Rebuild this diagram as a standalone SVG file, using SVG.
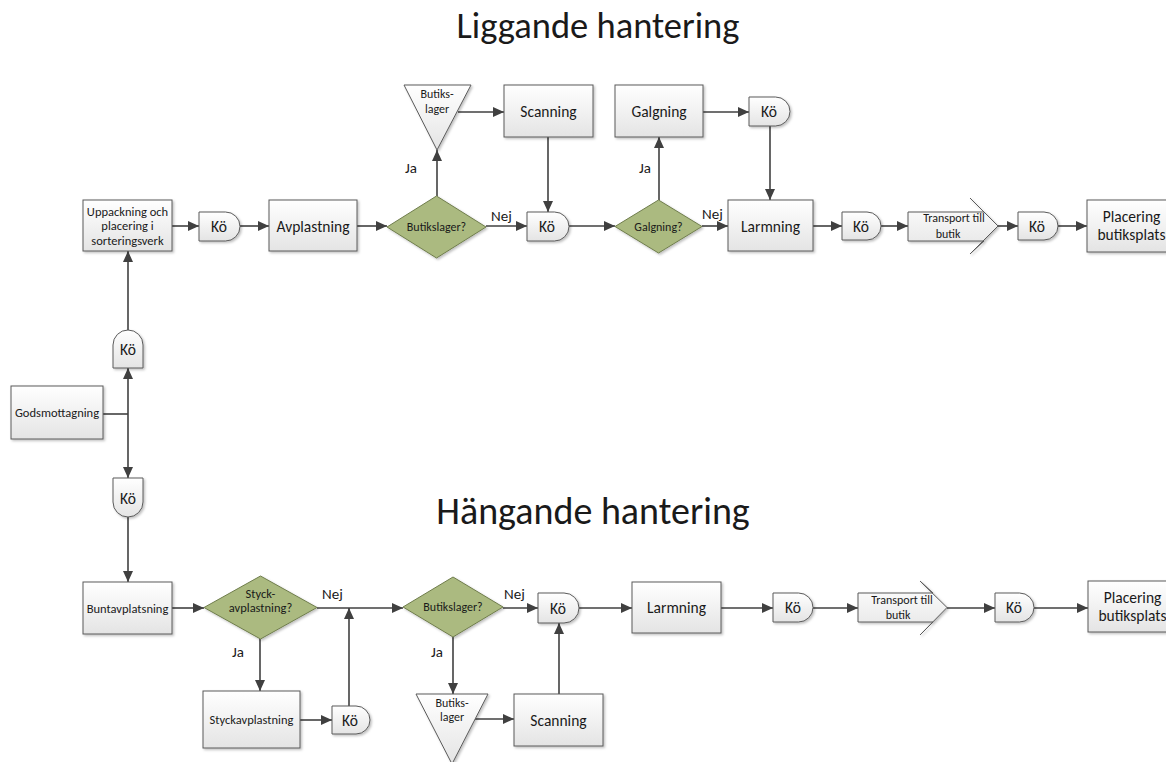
<svg xmlns="http://www.w3.org/2000/svg" width="1166" height="762" viewBox="0 0 1166 762">
<defs>
<linearGradient id="g" x1="0" y1="0" x2="0" y2="1">
<stop offset="0" stop-color="#ffffff"/>
<stop offset="1" stop-color="#e4e4e4"/>
</linearGradient>
<filter id="sh" x="-10%" y="-10%" width="130%" height="130%">
<feDropShadow dx="1.5" dy="1.5" stdDeviation="1" flood-color="#000" flood-opacity="0.25"/>
</filter>
<marker id="ah" markerUnits="userSpaceOnUse" markerWidth="12" markerHeight="10" refX="11" refY="5" orient="auto">
<path d="M0,0 L11,5 L0,10 z" fill="#404040"/>
</marker>
<style>
.box{fill:url(#g);stroke:#5a5a5a;stroke-width:1;filter:url(#sh)}
.dia{fill:#abba80;stroke:#6f7d4c;stroke-width:1;filter:url(#sh)}
.ln{stroke:#404040;stroke-width:1.6;fill:none;marker-end:url(#ah)}
.pl{stroke:#404040;stroke-width:1.6;fill:none}
text{font-family:Carlito,Calibri,Lato,"Open Sans",sans-serif;fill:#1a1a1a;text-anchor:middle}
.t14{font-size:15.5px}
.t11{font-size:12.5px}
.t10{font-size:12px}
.lb{font-size:15px;text-anchor:start}
.title{font-size:36.5px}
</style>
</defs>

<text class="title" x="598" y="38">Liggande hantering</text>
<text class="title" x="593" y="524" style="font-size:38px">Hängande hantering</text>

<g id="connectors">
<line class="ln" x1="172" y1="226" x2="199" y2="226"/>
<line class="ln" x1="240" y1="226" x2="269" y2="226"/>
<line class="ln" x1="357" y1="226" x2="387" y2="226"/>
<line class="ln" x1="437" y1="196" x2="437" y2="150"/>
<line class="ln" x1="458" y1="112" x2="504" y2="112"/>
<line class="ln" x1="548" y1="137" x2="548" y2="212"/>
<line class="ln" x1="486" y1="226" x2="527" y2="226"/>
<line class="ln" x1="569" y1="226" x2="615" y2="226"/>
<line class="ln" x1="659" y1="200" x2="659" y2="137"/>
<line class="ln" x1="703" y1="112" x2="749" y2="112"/>
<line class="ln" x1="770" y1="126" x2="770" y2="200"/>
<line class="ln" x1="702" y1="226" x2="728" y2="226"/>
<line class="ln" x1="813" y1="226" x2="842" y2="226"/>
<line class="ln" x1="881" y1="226" x2="908" y2="226"/>
<line class="ln" x1="998" y1="226" x2="1018" y2="226"/>
<line class="ln" x1="1058" y1="226" x2="1087" y2="226"/>
<polyline class="pl" points="103,414 128,414"/>
<line class="ln" x1="128" y1="414" x2="128" y2="368"/>
<line class="ln" x1="128" y1="414" x2="128" y2="478"/>
<line class="ln" x1="128" y1="330" x2="128" y2="251"/>
<line class="ln" x1="128" y1="517" x2="128" y2="582"/>
<line class="ln" x1="172" y1="608" x2="204" y2="608"/>
<line class="ln" x1="317" y1="608" x2="403" y2="608"/>
<line class="ln" x1="260" y1="639" x2="260" y2="691"/>
<line class="ln" x1="300" y1="720" x2="332" y2="720"/>
<line class="ln" x1="349" y1="706" x2="349" y2="608"/>
<line class="ln" x1="453" y1="637" x2="453" y2="694"/>
<line class="ln" x1="475" y1="719" x2="514" y2="719"/>
<line class="ln" x1="559" y1="694" x2="559" y2="623"/>
<line class="ln" x1="503" y1="608" x2="538" y2="608"/>
<line class="ln" x1="579" y1="608" x2="632" y2="608"/>
<line class="ln" x1="721" y1="608" x2="773" y2="608"/>
<line class="ln" x1="813" y1="608" x2="858" y2="608"/>
<line class="ln" x1="947" y1="608" x2="995" y2="608"/>
<line class="ln" x1="1034" y1="608" x2="1088" y2="608"/>
<text class="lb" x="405" y="173">Ja</text>
<text class="lb" x="491" y="221">Nej</text>
<text class="lb" x="639" y="173">Ja</text>
<text class="lb" x="702" y="219">Nej</text>
<text class="lb" x="322" y="599">Nej</text>
<text class="lb" x="232" y="657">Ja</text>
<text class="lb" x="504" y="599">Nej</text>
<text class="lb" x="431" y="657">Ja</text>
</g>

<g id="uppackning"><rect class="box" x="83" y="200" width="89" height="51"/>
<text class="t11" x="127.5" y="216">Uppackning och</text><text class="t11" x="127.5" y="230">placering i</text><text class="t11" x="127.5" y="244.5">sorteringsverk</text></g>
<g id="ko1"><path class="box" d="M199 212 H225.5 A14.5 14.5 0 0 1 225.5 241 H199 Z"/><text class="t14" x="219" y="232">Kö</text></g>
<g id="avplastning"><rect class="box" x="269" y="200" width="88" height="51"/><text class="t14" x="313" y="231.5">Avplastning</text></g>
<g id="butikslager1"><polygon class="dia" points="387,227 436.5,196 486,227 436.5,258"/><text class="t10" x="436.5" y="231">Butikslager?</text></g>
<g id="lager1"><polygon class="box" points="404,85 471,85 437,150"/><text class="t10" x="437" y="98">Butiks-</text><text class="t10" x="437" y="113">lager</text></g>
<g id="scanning1"><rect class="box" x="504" y="85" width="89" height="52"/><text class="t14" x="548.5" y="116.5">Scanning</text></g>
<g id="ko2"><path class="box" d="M527 212 H554.5 A14.5 14.5 0 0 1 554.5 241 H527 Z"/><text class="t14" x="547" y="232">Kö</text></g>
<g id="galgningq"><polygon class="dia" points="615,226.5 658.5,200 702,226.5 658.5,253"/><text class="t10" x="658.5" y="230.5">Galgning?</text></g>
<g id="galgning"><rect class="box" x="615" y="85" width="88" height="52"/><text class="t14" x="659" y="116.5">Galgning</text></g>
<g id="ko3"><path class="box" d="M749 97 H775.5 A14.5 14.5 0 0 1 775.5 126 H749 Z"/><text class="t14" x="769" y="117">Kö</text></g>
<g id="larmning1"><rect class="box" x="728" y="200" width="85" height="51"/><text class="t14" x="770.5" y="231.5">Larmning</text></g>
<g id="ko4"><path class="box" d="M842 212 H867 A14 14 0 0 1 867 240 H842 Z"/><text class="t14" x="861" y="231.5">Kö</text></g>
<g id="transport1"><polygon class="box" points="908,212 984,212 970,198 998,226 970,254 984,241 908,241"/><text class="t10" x="954" y="222">Transport till</text><text class="t10" x="948" y="238">butik</text></g>
<g id="ko5"><path class="box" d="M1018 212 H1044 A14 14 0 0 1 1044 240 H1018 Z"/><text class="t14" x="1037" y="231.5">Kö</text></g>
<g id="placering1"><rect class="box" x="1087" y="200" width="89" height="52"/><text class="t14" x="1131.5" y="222">Placering</text><text class="t14" x="1131.5" y="240">butiksplats</text></g>

<g id="godsmottagning"><rect class="box" x="11" y="386" width="92" height="53"/><text class="t11" x="57" y="417">Godsmottagning</text></g>
<g id="ko-upper"><path class="box" d="M113 368 V345 A15 15 0 0 1 143 345 V368 Z"/><text class="t14" x="128" y="354.5">Kö</text></g>
<g id="ko-lower"><path class="box" d="M113 478 H143 V502 A15 15 0 0 1 113 502 Z"/><text class="t14" x="128" y="503.5">Kö</text></g>

<g id="buntavplatsning"><rect class="box" x="83" y="582" width="89" height="52"/><text class="t11" x="127.5" y="612.5">Buntavplatsning</text></g>
<g id="styckq"><polygon class="dia" points="204,607.5 260.5,576 317,607.5 260.5,639"/><text class="t11" x="260.5" y="597.5">Styck-</text><text class="t11" x="260.5" y="611.5">avplastning?</text></g>
<g id="styckavplastning"><rect class="box" x="203" y="691" width="97" height="57"/><text class="t11" x="251.5" y="724">Styckavplastning</text></g>
<g id="ko6"><path class="box" d="M332 706 H356 A14 14 0 0 1 356 734 H332 Z"/><text class="t14" x="350" y="725.5">Kö</text></g>
<g id="butikslager2"><polygon class="dia" points="403,607 453,577 503,607 453,637"/><text class="t10" x="453" y="611">Butikslager?</text></g>
<g id="lager2"><polygon class="box" points="416,694 488,694 452,764"/><text class="t10" x="452" y="707">Butiks-</text><text class="t10" x="452" y="721">lager</text></g>
<g id="scanning2"><rect class="box" x="514" y="694" width="89" height="52"/><text class="t14" x="558.5" y="725.5">Scanning</text></g>
<g id="ko7"><path class="box" d="M538 593 H564 A15 15 0 0 1 564 623 H538 Z"/><text class="t14" x="558" y="613.5">Kö</text></g>
<g id="larmning2"><rect class="box" x="632" y="582" width="89" height="51"/><text class="t14" x="676.5" y="613">Larmning</text></g>
<g id="ko8"><path class="box" d="M773 593 H798.5 A14.5 14.5 0 0 1 798.5 622 H773 Z"/><text class="t14" x="793" y="613">Kö</text></g>
<g id="transport2"><polygon class="box" points="858,593 933,593 920,581 947,607.5 920,635 933,622 858,622"/><text class="t10" x="902" y="604">Transport till</text><text class="t10" x="898" y="619">butik</text></g>
<g id="ko9"><path class="box" d="M995 593 H1019.5 A14.5 14.5 0 0 1 1019.5 622 H995 Z"/><text class="t14" x="1014" y="613">Kö</text></g>
<g id="placering2"><rect class="box" x="1088" y="581" width="89" height="51"/><text class="t14" x="1132.5" y="603">Placering</text><text class="t14" x="1132.5" y="621">butiksplats</text></g>
</svg>
